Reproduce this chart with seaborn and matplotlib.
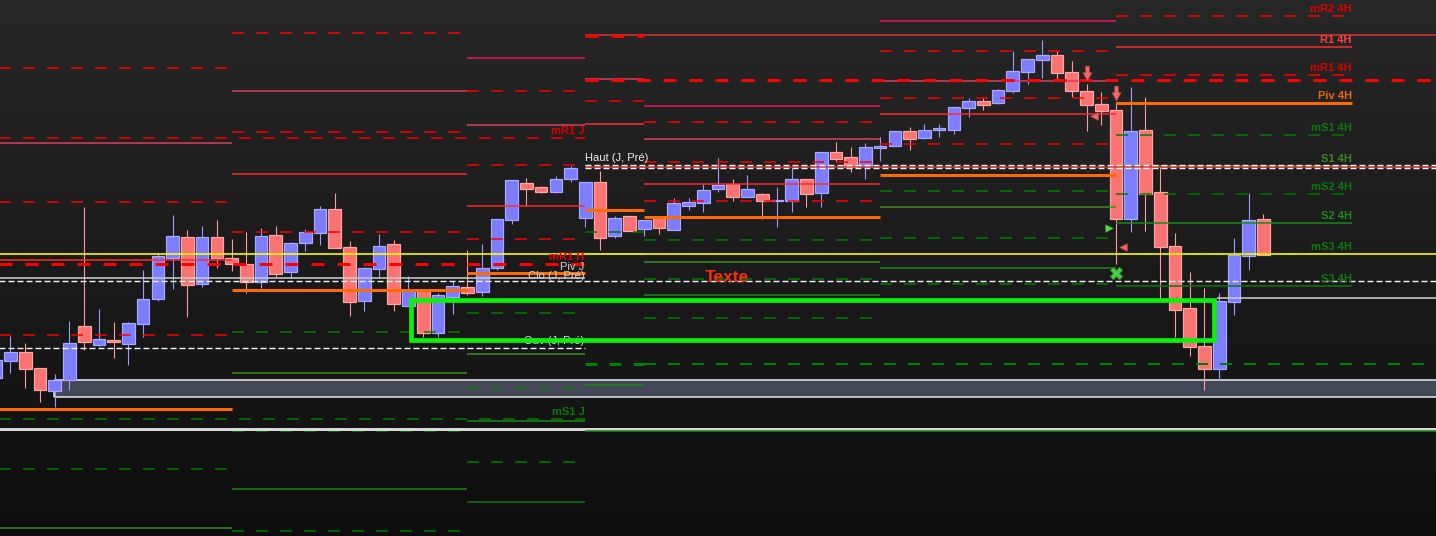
import numpy as np
import pandas as pd
import matplotlib
matplotlib.use("Agg")
import matplotlib.pyplot as plt
import seaborn as sns
from matplotlib.path import Path
from matplotlib.patches import Rectangle
from matplotlib.colors import LinearSegmentedColormap

# ---- 15 min candles (index 0 = first full candle on the left) ----
bar_idx = list(range(-1, 86))
opens = [158, 175, 184, 168, 145, 156, 210, 191, 196, 192, 212, 237, 278, 299, 252, 299, 278,
         272, 254, 301, 264, 293, 303, 327, 289, 235, 267, 292, 230, 246, 203, 239, 249, 244,
         268, 316, 353, 349, 344, 357, 318, 354, 300, 320, 307, 318, 306, 330, 333, 347, 352,
         339, 342, 335, 335, 357, 343, 384, 379, 370, 388.5, 390, 405, 398, 406.5, 406, 428,
         435, 433, 445, 464, 476, 481, 464, 445, 432, 426, 317, 406, 344, 290, 228, 190, 167,
         234, 280, 317]
highs = [184, 200, 193, 168, 162, 215, 329, 227, 214, 214, 266, 283, 321, 306, 310, 316, 297,
         304, 308, 310, 294, 307, 330, 343, 295, 269, 302, 296, 260, 246, 243, 255, 286, 292,
         317, 356, 358, 350, 360, 370, 354, 365, 320, 320, 316, 318, 338, 338, 352, 378, 357,
         361, 343, 349, 368, 357, 384, 394, 389, 393, 399, 405, 409, 412, 412, 429, 438, 438,
         447, 485, 477, 496, 485, 475, 452, 444, 434, 449, 439, 370, 303, 264, 248, 243, 298,
         343, 322]
lows = [152, 163, 148, 134, 129, 146, 186, 190, 178, 171, 199, 235, 247, 219, 249, 268, 265,
        243, 248, 259, 258, 285, 291, 288, 220, 225, 259, 225, 230, 199, 199, 222, 241, 240,
        266, 312, 330, 343, 343, 354, 309, 286, 298, 305, 300, 302, 306, 326, 324, 344, 335,
        339, 317, 309, 324, 329, 329, 374, 364, 357, 375, 390, 386, 397, 399, 402, 419, 426,
        432, 443, 452, 458, 456, 439, 405, 411, 272, 304, 305, 236, 199, 180, 146, 156, 221,
        266, 281]
closes = [176, 184, 167, 146, 156, 193, 194, 197, 194, 213, 237, 280, 300, 251, 299, 278, 272,
          254, 300, 262, 293, 304, 327, 288, 234, 268, 290, 232, 246, 203, 241, 250, 243, 268,
          317, 356, 347, 344, 357, 368, 354, 298, 318, 305, 316, 308, 333, 334, 346, 351, 339,
          347, 335, 336, 357, 342, 384, 377, 369, 389, 389.5, 405, 397, 406, 407.5, 429, 435,
          431, 446, 465, 477, 481, 463, 445, 431, 425, 317, 405, 342, 289, 226, 189, 167, 235,
          281, 316, 281]

# ---- pivot blocks: start / end (candle index) and levels per block ----
piv_kinds = ["R3", "mR3", "R2", "mR2", "R1", "mR1", "P", "mS1", "S1", "mS2", "S2", "mS3", "S3"]
seg_start = [-0.75, 15, 31, 39, 43, 59, 75]
seg_end = [15, 31, 39, 43, 59, 75, 91]
seg_A = [None, 468, 393, 334, 276, 201, 127, 67, 8, None, None, None, None]
seg_B = [None, 503, 445, 404, 362, 304, 246, 204, 163, 105, 47, 5, None]
seg_C = [478, 445, 411, 371, 330, 297, 263, 223, 182, 148, 115, 74, 34]
seg_D = [None, None, 457, 435, 412, None, 326, 304, 282, None, 151, None, None]
seg_E = [430, 414, 397, 374, 352, 335, 319, 296, 274, 257, 241, 218, 196]
seg_F = [515, 485, 455, 438, 422, 392, 361, 345, 329, 298, 268, 252, None]
seg_G = [None, None, None, 520, 489, 461, 433, 401, 370, 342, 313, 282, 250]
seg_levels = [seg_A, seg_B, seg_C, seg_D, seg_E, seg_F, seg_G]

# ---- long levels (J / H / previous day) ----
long_start = [39, 39, 39, -0.75, -0.75, -0.75, 39, 39, 39, -0.75, -0.75, -0.75, 81.85, -0.75,
              43, 39, -0.75, 39]
long_end = [98, 98, 43, 39, 39, 39, 98, 98, 98, 98, 39, 98, 98, 39, 98, 43, 98, 98]
long_level = [501, 456, 500, 272, 398, 117, 369, 370.7, 367.7, 282, 258, 255, 238, 188, 172,
              172, 107, 105]
long_style = ["red_thin", "red_thick", "red_thick", "red_thick", "red_dash", "green_dash",
              "red_thin", "white_dash", "white_dash", "yellow", "gray", "white_dash", "gray",
              "white_dash", "green_dash2", "green_thick", "gray_thick", "green_thin"]

# zone and box
zone_x = [2.95, 98]
zone_y = [139, 156]
box_x = [27.14, 81.68]
box_y = [196.5, 236.5]

# markers
arrow_x, arrow_y = [73, 75], [463, 443]
sell_x, sell_y = [73.5, 75.5], [420, 289]
buy_x, buy_y = [74.5], [308]
cross_x, cross_y = [75], [263]

# labels
lab4h_text = ["mR2 4H", "R1 4H", "mR1 4H", "Piv 4H", "mS1 4H", "S1 4H", "mS2 4H", "S2 4H",
              "mS3 4H", "S3 4H"]
lab4h_y = [527, 496, 468, 440, 408, 377, 349, 320, 289, 257]
lab4h_col = ["#dd0000", "#ff3c3c", "#dd0000", "#e8660f", "#0a7a0a", "#3c8a1c", "#0a7a0a",
             "#1a8a1a", "#0a7a0a", "#0f7a0f"]
labj_text = ["mR1 J", "Haut (J, Pré)", "mR1 H", "Piv J", "Clo (J, Pré)", "Ouv (J, Pré)", "mS1 J"]
labj_y = [405, 378, 279, 269, 260, 195, 124]
labj_col = ["#dd0000", "#eeeeee", "#dd0000", "#d0d0d0", "#d8d8d8", "#e0e0e0", "#0a7a0a"]
labj_ha = ["right", "left", "right", "right", "right", "right", "right"]
labj_bold = [True, False, True, False, False, False, True]

# ---- styles ----
px = 0.72
styles = {
    "R3": dict(color="#ee1060", lw=1.5 * px, ls="-"),
    "R2": dict(color="#d8405e", lw=1.5 * px, ls="-"),
    "R1": dict(color="#ff2a2a", lw=1.5 * px, ls="-"),
    "mR": dict(color="#ff0000", lw=1.5 * px, ls=(0, (12 * px, 12 * px))),
    "P": dict(color="#ff6a00", lw=3 * px, ls="-"),
    "mS": dict(color="#007a00", lw=1.5 * px, ls=(0, (12 * px, 12 * px))),
    "S1": dict(color="#3c901c", lw=1.5 * px, ls="-"),
    "S2": dict(color="#168a16", lw=1.5 * px, ls="-"),
    "S3": dict(color="#0e780e", lw=1.5 * px, ls="-"),
    "red_thin": dict(color="#e03535", lw=1.5 * px, ls="-"),
    "red_thick": dict(color="#ff0000", lw=3 * px, ls=(0, (13 * px, 13 * px))),
    "red_dash": dict(color="#ff0000", lw=1.5 * px, ls=(0, (12 * px, 12 * px))),
    "green_dash": dict(color="#007a00", lw=1.5 * px, ls=(0, (12 * px, 12 * px))),
    "green_dash2": dict(color="#008000", lw=2 * px, ls=(0, (12 * px, 12 * px))),
    "green_thick": dict(color="#008000", lw=3 * px, ls=(0, (12 * px, 12 * px))),
    "green_thin": dict(color="#148214", lw=1.5 * px, ls="-"),
    "white_dash": dict(color="#f4f4f4", lw=1.4 * px, ls=(0, (6 * px, 3 * px))),
    "gray": dict(color="#c8c8c8", lw=1.6 * px, ls="-"),
    "gray_thick": dict(color="#d8d8d8", lw=3 * px, ls="-"),
    "yellow": dict(color="#ffff00", lw=1.6 * px, ls="-"),
}

sns.set_theme(style="dark", rc={"figure.facecolor": "#1c1c1c", "axes.facecolor": "#1c1c1c"})
plt.rcParams["font.family"] = ["Liberation Sans", "DejaVu Sans"]
plt.rcParams["lines.scale_dashes"] = False
plt.rcParams["lines.solid_capstyle"] = "butt"
plt.rcParams["lines.dash_capstyle"] = "butt"

fig = plt.figure(figsize=(14.36, 5.36), dpi=100)
ax = fig.add_axes([0, 0, 1, 1])
x_lo, x_hi = -0.712, 96.71
ax.set_xlim(x_lo, x_hi)
ax.set_ylim(0, 536)
ax.axis("off")

# background gradient
bg = LinearSegmentedColormap.from_list("bg", ["#0e0e0e", "#272727"])
ax.imshow(np.linspace(0, 1, 256).reshape(-1, 1), extent=[x_lo, x_hi, 0, 536], origin="lower",
          aspect="auto", cmap=bg, zorder=0)

# zone
ax.add_patch(Rectangle((zone_x[0], zone_y[0]), zone_x[1] - zone_x[0], zone_y[1] - zone_y[0],
                       facecolor="#434756", edgecolor="none", zorder=1))
for yv in zone_y:
    ax.plot(zone_x, [yv, yv], color="#f0f0f0", lw=1.5 * px, zorder=1.2)
ax.plot([zone_x[0], zone_x[0]], zone_y, color="#f0f0f0", lw=1.5 * px, zorder=1.2)

# candles
df = pd.DataFrame({"i": bar_idx, "o": opens, "h": highs, "l": lows, "c": closes})
df["up"] = df.c >= df.o
df["bot"] = df[["o", "c"]].min(axis=1)
df["hgt"] = (df.c - df.o).abs().clip(lower=1.2)
for up, face, edge, wick in [(True, "#7d7dff", "#a9a9ff", "#9c9cff"),
                             (False, "#f97373", "#ffa6a6", "#ff9c9c")]:
    d = df[df.up == up]
    ax.vlines(d.i, d.l, d.h, color=wick, lw=1.1 * px, zorder=2)
    ax.bar(d.i, d.hgt, bottom=d.bot, width=0.86, color=face, edgecolor=edge,
           linewidth=1.2 * px, zorder=2.5)

# pivot blocks
rows = []
for s0, s1, lv in zip(seg_start, seg_end, seg_levels):
    for kind, val in zip(piv_kinds, lv):
        if val is not None:
            rows.append((s0, s1, val, kind))
piv = pd.DataFrame(rows, columns=["x0", "x1", "y", "kind"])
for r in piv.itertuples():
    key = r.kind if r.kind in styles else r.kind[:2]
    st = styles[key]
    ax.plot([r.x0, r.x1], [r.y, r.y], color=st["color"], lw=st["lw"], ls=st["ls"], zorder=3)

for x0, x1, yv, key in zip(long_start, long_end, long_level, long_style):
    st = styles[key]
    ax.plot([x0, x1], [yv, yv], color=st["color"], lw=st["lw"], ls=st["ls"], zorder=3.2)

# markers
arrow = Path([(-0.25, 1), (0.25, 1), (0.25, 0.1), (0.6, 0.1), (0, -1), (-0.6, 0.1),
              (-0.25, 0.1), (-0.25, 1)],
             [Path.MOVETO] + [Path.LINETO] * 6 + [Path.CLOSEPOLY])
ax.scatter(arrow_x, arrow_y, marker=arrow, s=110, color="#f26a6a", edgecolor="#b84646",
           linewidth=0.6, zorder=5)
sns.scatterplot(x=sell_x, y=sell_y, marker="<", s=30, color="#f06464", edgecolor="#b84646",
                linewidth=0.5, ax=ax, zorder=5, legend=False)
sns.scatterplot(x=buy_x, y=buy_y, marker=">", s=30, color="#55e055", edgecolor="#2a9a2a",
                linewidth=0.5, ax=ax, zorder=5, legend=False)
sns.scatterplot(x=cross_x, y=cross_y, marker="X", s=80, color="#45d045", edgecolor="#2a8a2a",
                linewidth=0.6, ax=ax, zorder=5, legend=False)

# labels
for t, yv, col in zip(lab4h_text, lab4h_y, lab4h_col):
    ax.text(91.0, yv, t, color=col, fontsize=8, fontweight="bold", ha="right", va="center",
            zorder=4)
for t, yv, col, ha, b in zip(labj_text, labj_y, labj_col, labj_ha, labj_bold):
    xt = 38.95 if ha == "right" else 39.0
    ax.text(xt, yv, t, color=col, fontsize=8, fontweight="bold" if b else "normal", ha=ha,
            va="center", zorder=4)
ax.text(48.6, 259, "Texte", color="#ff2a10", fontsize=12.5, fontweight="bold", ha="center",
        va="center", zorder=4)

# green box
ax.add_patch(Rectangle((box_x[0], box_y[0]), box_x[1] - box_x[0], box_y[1] - box_y[0],
                       facecolor="none", edgecolor="#0cf00c", linewidth=4.7 * px, zorder=6))

fig.savefig("out.png", dpi=100)
